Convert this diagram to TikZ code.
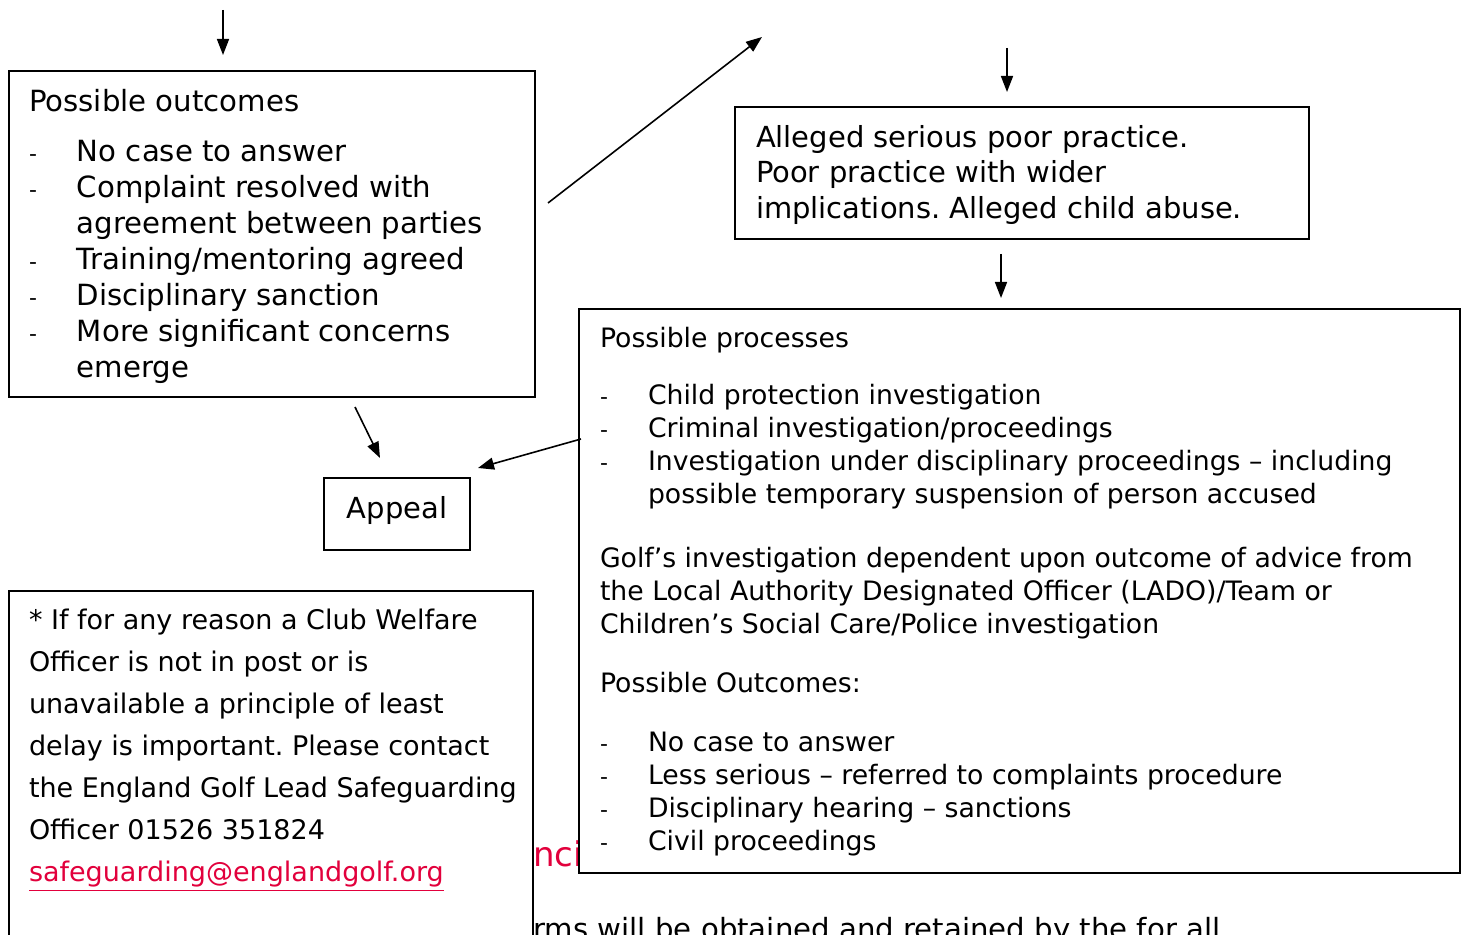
\documentclass[tikz,border=0pt]{standalone}
\usepackage{fontspec}
\setmainfont{DejaVu Sans}
\usetikzlibrary{arrows.meta}

\definecolor{linkred}{RGB}{226,0,60}

\newcommand{\dashitem}[1]{\makebox[24pt][l]{\fontsize{11pt}{11pt}\selectfont -}#1}
\newcommand{\contitem}[1]{\hspace*{24pt}#1}

\tikzset{
  box/.style={draw, line width=1pt, fill=white, inner xsep=10pt, inner ysep=9pt, anchor=north west},
  arr/.style={-{Triangle[length=8pt,width=6pt]}, line width=0.8pt},
}

\begin{document}
\frenchspacing
\begin{tikzpicture}[x=0.5pt,y=-0.5pt]
  \useasboundingbox (0,0) rectangle (1466,935);

  % text lying behind the boxes
  \node[anchor=base west, inner sep=0, text=linkred] (heading) at (533,866) {\fontsize{17pt}{20pt}\selectfont nci};
  \node[anchor=base west, inner sep=0] (bottomline) at (533,939) {\fontsize{14.6pt}{18pt}\selectfont rms will be obtained and retained by the for all};

  \node[box] (outcomes) at (8,70) {\parbox[c][145pt][t]{243pt}{\raggedright\fontsize{14.6pt}{18pt}\selectfont
    Possible outcomes\\[7pt]
    \dashitem{No case to answer}\\
    \dashitem{Complaint resolved with}\\
    \contitem{agreement between parties}\\
    \dashitem{Training/mentoring agreed}\\
    \dashitem{Disciplinary sanction}\\
    \dashitem{More significant concerns}\\
    \contitem{emerge}}};

  \node[box, inner xsep=10.5pt] (alleged) at (734,106) {\parbox[c][48pt][t]{266pt}{\raggedright\fontsize{14.5pt}{17.75pt}\selectfont
    Alleged serious poor practice.\\
    Poor practice with wider\\
    implications. Alleged child abuse.}};

  \node[box, inner xsep=10.5pt] (processes) at (578,308) {\parbox[c][264pt][t]{419.5pt}{\raggedright\fontsize{13.35pt}{16.5pt}\selectfont
    Possible processes\\[12pt]
    \dashitem{Child protection investigation}\\
    \dashitem{Criminal investigation/proceedings}\\
    \dashitem{Investigation under disciplinary proceedings – including}\\
    \contitem{possible temporary suspension of person accused}\\[15.5pt]
    Golf’s investigation dependent upon outcome of advice from\\
    the Local Authority Designated Officer (LADO)/Team or\\
    Children’s Social Care/Police investigation\\[13pt]
    Possible Outcomes:\\[13pt]
    \dashitem{No case to answer}\\
    \dashitem{Less serious – referred to complaints procedure}\\
    \dashitem{Disciplinary hearing – sanctions}\\
    \dashitem{Civil proceedings}}};

  \node[box, anchor=center, inner sep=0, minimum width=73pt, minimum height=36pt, text depth=7pt] (appeal) at (397,514) {\fontsize{14.5pt}{18pt}\selectfont Appeal};

  \node[box] (welfare) at (8,590) {\parbox[c][177pt][t]{242pt}{\raggedright\fontsize{13.5pt}{21pt}\selectfont
    \mbox{* If for any reason a Club Welfare}\\
    \mbox{Officer is not in post or is}\\
    \mbox{unavailable a principle of least}\\
    \mbox{delay is important. Please contact}\\
    \mbox{the England Golf Lead Safeguarding}\\
    \mbox{Officer 01526 351824}\\
    \textcolor{linkred}{\underline{safeguarding@englandgolf.org}}}};

  % connectors
  \coordinate (topin) at (223,10);
  \coordinate (rightin) at (1007,48);
  \coordinate (upfrom) at (548,203);
  \coordinate (upto) at (762,37);
  \coordinate (appealfrom) at (355,407);
  \coordinate (appealto) at (380,458);
  \coordinate (backfrom) at (581,439);
  \coordinate (backto) at (478,468);

  \draw[arr, shorten >=7.5pt] (topin) -- (topin |- outcomes.north);
  \draw[arr, shorten >=7pt] (rightin) -- (rightin |- alleged.north);
  \draw[arr] (upfrom) -- (upto);
  \draw[arr, shorten <=7pt, shorten >=5pt] ([xshift=-10.5pt]alleged.south) -- ([xshift=-10.5pt]alleged.south |- processes.north);
  \draw[arr] (appealfrom) -- (appealto);
  \draw[arr] (backfrom) -- (backto);

\end{tikzpicture}
\end{document}
